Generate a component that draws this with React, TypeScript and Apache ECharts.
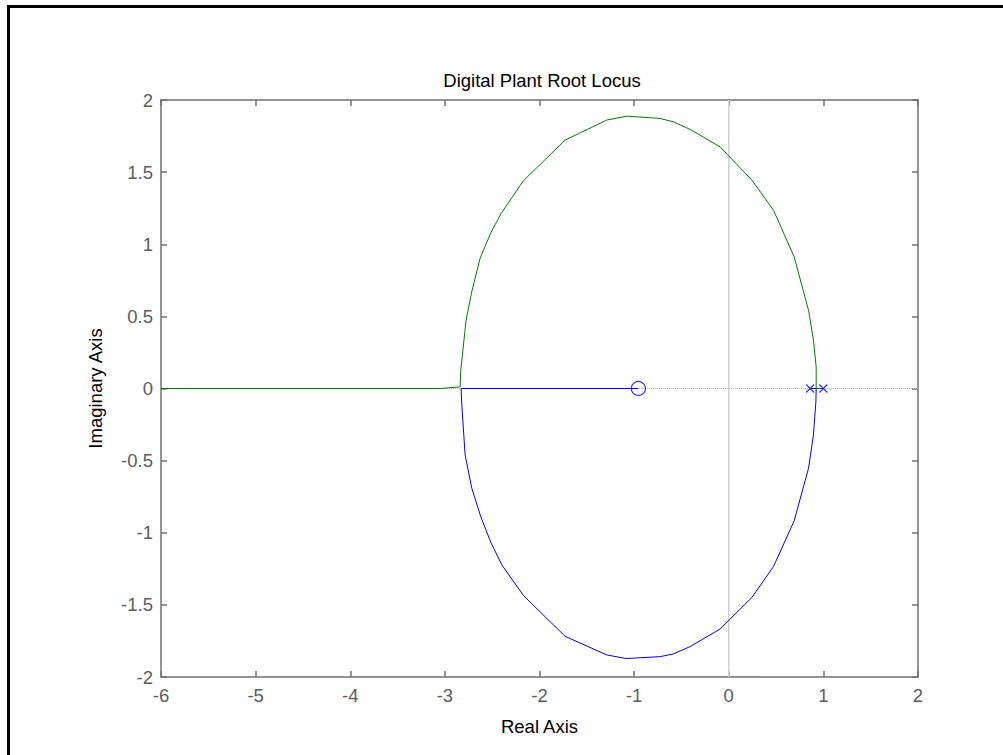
import React, { useEffect, useRef } from "react";
import * as echarts from "echarts";

// Upper (green) branch: from pole at 1.0 through breakaway, upper arc, then to -inf
const greenBranch: [number, number][] = [
  [1.0, 0], [0.924, 0.0], [0.924, 0.15], [0.895, 0.335], [0.843, 0.543], [0.691, 0.913],
  [0.473, 1.236], [0.244, 1.445], [-0.091, 1.675], [-0.408, 1.796], [-0.585, 1.849],
  [-0.725, 1.872], [-1.074, 1.888], [-1.289, 1.861], [-1.729, 1.722], [-2.17, 1.44],
  [-2.406, 1.213], [-2.515, 1.079], [-2.628, 0.902], [-2.716, 0.67], [-2.776, 0.474],
  [-2.832, 0.127], [-2.839, 0.011], [-3.05, 0.0], [-6, 0],
];

// Lower (blue) branch: from pole at 0.86 through breakaway, lower arc, then to the zero
const blueBranch: [number, number][] = [
  [0.86, 0], [0.924, 0], [0.921, -0.09], [0.895, -0.322], [0.843, -0.553], [0.691, -0.918],
  [0.473, -1.234], [0.244, -1.449], [-0.091, -1.667], [-0.408, -1.789], [-0.585, -1.84],
  [-0.725, -1.859], [-1.085, -1.872], [-1.289, -1.847], [-1.729, -1.718], [-2.17, -1.435],
  [-2.398, -1.223], [-2.515, -1.066], [-2.621, -0.888], [-2.716, -0.69], [-2.786, -0.461],
  [-2.821, -0.114], [-2.829, 0], [-0.955, 0],
];

const zeros: [number, number][] = [[-0.955, 0]];
const poles: [number, number][] = [[0.86, 0], [1.0, 0]];

const xMin = -6, xMax = 2, xStep = 1;
const yMin = -2, yMax = 2, yStep = 0.5;

const FONT = "'Liberation Sans', Arial, Helvetica, sans-serif";
const FS = 18.5;

export default function App() {
  const ref = useRef<HTMLDivElement>(null);
  useEffect(() => {
    document.body.style.margin = "0";
    const chart = echarts.init(ref.current!, null, { renderer: "svg" });
    const axisColor = "#707070";
    const labelColor = "#5c5c5c";
    const baseX = {
      type: "value" as const,
      min: xMin, max: xMax, interval: xStep,
      axisLine: { show: true, onZero: false, lineStyle: { color: axisColor, width: 1.5 } },
      axisTick: { show: true, inside: true, length: 6, lineStyle: { color: axisColor, width: 1.5 } },
      splitLine: { show: false },
    };
    const baseY = {
      type: "value" as const,
      min: yMin, max: yMax, interval: yStep,
      axisLine: { show: true, onZero: false, lineStyle: { color: axisColor, width: 1.5 } },
      axisTick: { show: true, inside: true, length: 6, lineStyle: { color: axisColor, width: 1.5 } },
      splitLine: { show: false },
    };
    chart.setOption({
      animation: false,
      backgroundColor: "#ffffff",
      title: {
        text: "Digital Plant Root Locus",
        left: 537,
        top: 66,
        textAlign: "center",
        textStyle: { fontFamily: FONT, fontSize: FS, fontWeight: "normal", color: "#000" },
      },
      grid: { left: 161, top: 100, width: 757, height: 577, containLabel: false },
      xAxis: [
        {
          ...baseX,
          position: "bottom",
          name: "Real Axis",
          nameLocation: "middle",
          nameGap: 40,
          nameTextStyle: { fontFamily: FONT, fontSize: FS, color: "#000" },
          axisLabel: { fontFamily: FONT, fontSize: FS, color: labelColor, margin: 9 },
        },
        { ...baseX, position: "top", axisLabel: { show: false } },
      ],
      yAxis: [
        {
          ...baseY,
          position: "left",
          name: "Imaginary Axis",
          nameLocation: "middle",
          nameGap: 56,
          nameTextStyle: { fontFamily: FONT, fontSize: FS, color: "#000" },
          axisLabel: { fontFamily: FONT, fontSize: FS, color: labelColor, margin: 8 },
        },
        { ...baseY, position: "right", axisLabel: { show: false } },
      ],
      graphic: [
        { type: "rect", shape: { x: 7, y: 5, width: 3, height: 760 }, style: { fill: "#000" } },
        { type: "rect", shape: { x: 7, y: 5, width: 1000, height: 3 }, style: { fill: "#000" } },
      ],
      series: [
        {
          type: "line",
          data: [[xMin, 0], [xMax, 0]],
          symbol: "none",
          silent: true,
          z: 1,
          lineStyle: { color: "#b4b4b4", width: 1, type: [1, 1] },
        },
        {
          type: "line",
          data: [[0, yMin], [0, yMax]],
          symbol: "none",
          silent: true,
          z: 1,
          lineStyle: { color: "#d0d0d0", width: 1.5 },
        },
        {
          type: "line",
          data: greenBranch,
          symbol: "none",
          z: 3,
          lineStyle: { color: "#008000", width: 1 },
        },
        {
          type: "line",
          data: blueBranch,
          symbol: "none",
          z: 4,
          lineStyle: { color: "#0000ff", width: 1 },
        },
        {
          type: "scatter",
          data: zeros,
          symbol: "circle",
          symbolSize: 14,
          z: 5,
          itemStyle: { color: "rgba(0,0,0,0)", borderColor: "#0000ff", borderWidth: 1.2 },
        },
        {
          type: "scatter",
          data: poles,
          symbol: "path://M0,0L10,10M10,0L0,10",
          symbolSize: 8,
          z: 5,
          itemStyle: { color: "rgba(0,0,0,0)", borderColor: "#0000ff", borderWidth: 1.2 },
        },
      ],
    });
    return () => chart.dispose();
  }, []);
  return <div ref={ref} style={{ width: 1003, height: 755 }} />;
}
